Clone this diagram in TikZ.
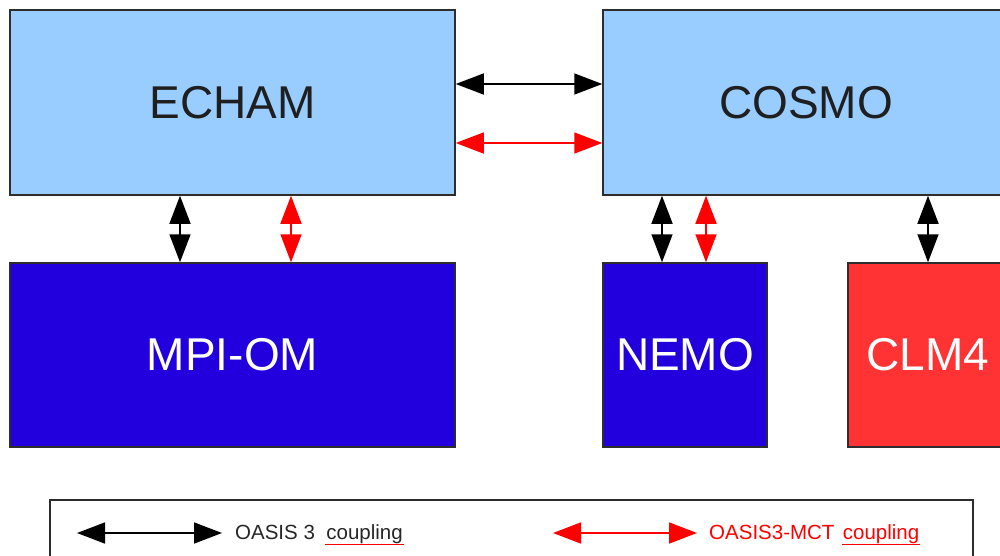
\documentclass[tikz,border=0pt]{standalone}
\usepackage{fontspec}
\setmainfont{Liberation Sans}
\usetikzlibrary{arrows.meta}
\usetikzlibrary{positioning}
\definecolor{skyblue}{RGB}{153,204,255}
\definecolor{oceanblue}{RGB}{34,0,221}
\definecolor{landred}{RGB}{255,51,51}
\definecolor{edgegray}{RGB}{45,45,45}

\tikzset{
 model/.style={draw=edgegray, line width=1.5pt, inner sep=0, font=\fontsize{46}{52}\selectfont},
 oasis/.style={line width=1.6pt, {Triangle[length=28pt,width=21pt]}-{Triangle[length=28pt,width=21pt]}},
 mct/.style={oasis, red},
 keytext/.style={inner sep=1pt, font=\fontsize{20.5}{24}\selectfont},
}

\begin{document}
\begin{tikzpicture}[x=1pt,y=-1pt]
\useasboundingbox (0,0) rectangle (1000,556);
% models
\node[model, fill=skyblue, text=black!88, minimum width=445pt, minimum height=185pt] (echam) at (232.5,102.5) {ECHAM};
\node[model, fill=skyblue, text=black!88, minimum width=406pt, minimum height=185pt] (cosmo) at (806,102.5) {COSMO};
\node[model, fill=oceanblue, text=white, minimum width=445pt, minimum height=184pt] (mpiom) at (232.5,355) {MPI-OM};
\node[model, fill=oceanblue, text=white, minimum width=164pt, minimum height=184pt] (nemo) at (685,355) {NEMO};
\node[model, fill=landred, text=white, minimum width=160pt, minimum height=184pt] (clm) at (928,355) {CLM4};

% couplings
\draw[oasis] ([yshift=18.5pt]echam.east) -- ([yshift=18.5pt]cosmo.west);
\draw[mct] ([yshift=-40.5pt]echam.east) -- ([yshift=-40.5pt]cosmo.west);
\draw[oasis] (echam.south -| 180,0) -- (mpiom.north -| 180,0);
\draw[mct] (echam.south -| 291,0) -- (mpiom.north -| 291,0);
\draw[oasis] (cosmo.south -| 662,0) -- (nemo.north -| 662,0);
\draw[mct] (cosmo.south -| 706,0) -- (nemo.north -| 706,0);
\draw[oasis] (cosmo.south -| clm.north) -- (clm.north);

% legend
\node[draw=edgegray, line width=1.2pt, minimum width=923pt, minimum height=70pt, inner sep=0] (legend) at (511.5,535) {};
\coordinate (k1) at (77,533);
\coordinate (k2) at (222,533);
\coordinate (m1) at (553,533);
\coordinate (m2) at (697,533);
\draw[oasis] (k1) -- (k2);
\draw[mct] (m1) -- (m2);
\node[keytext, anchor=west, text=black!85] (oasislbl) at (234,532) {OASIS 3};
\node[keytext, base right=9pt of oasislbl, text=black!85] (oasiscpl) {coupling};
\node[keytext, anchor=west, text=red] (mctlbl) at (708,532) {OASIS3-MCT};
\node[keytext, base right=6pt of mctlbl, text=red] (mctcpl) {coupling};
\draw[red, line width=1.2pt] (oasiscpl.south west) -- (oasiscpl.south east);
\draw[red, line width=1.2pt] (mctcpl.south west) -- (mctcpl.south east);
\end{tikzpicture}
\end{document}
